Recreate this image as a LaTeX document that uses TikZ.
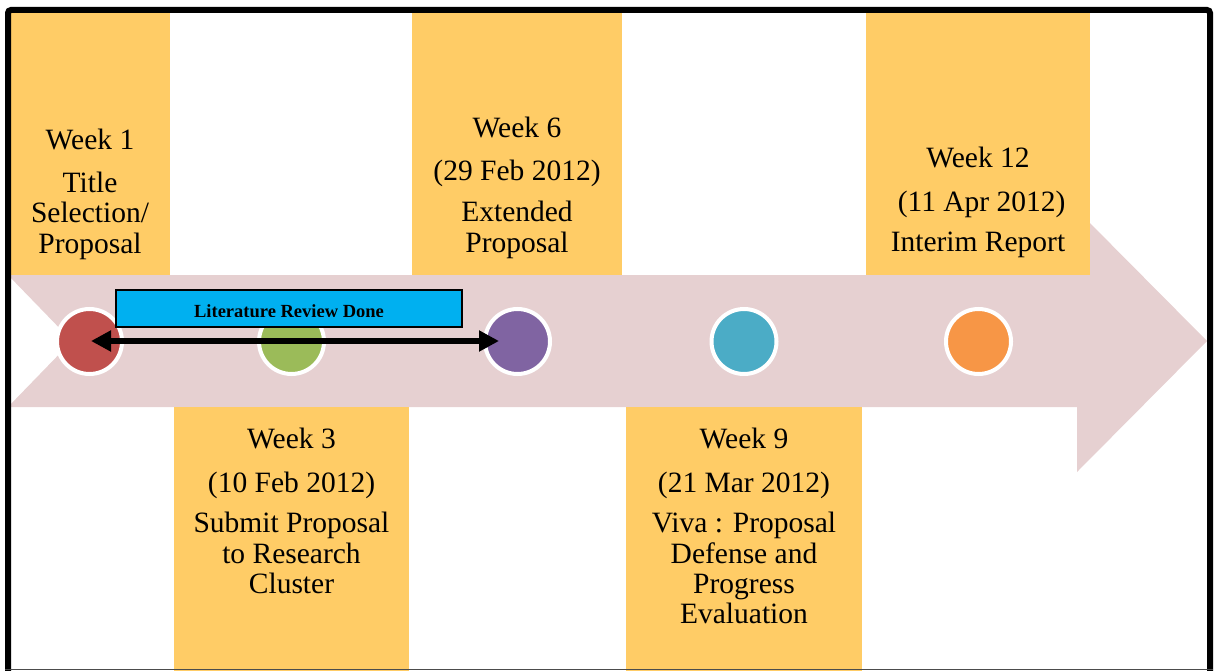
\documentclass[tikz,border=0pt]{standalone}
\usepackage{fontspec}
\setmainfont{Liberation Serif}
\usetikzlibrary{arrows.meta}

\definecolor{boxyellow}{HTML}{FFCC66}
\definecolor{arrowpink}{HTML}{E6D0D1}
\definecolor{lrblue}{HTML}{00B0F0}
\definecolor{dotred}{HTML}{C0504D}
\definecolor{dotgreen}{HTML}{9BBB59}
\definecolor{dotpurple}{HTML}{8064A2}
\definecolor{dotaqua}{HTML}{4BACC6}
\definecolor{dotorange}{HTML}{F79646}

\begin{document}
\begin{tikzpicture}[x=1pt,y=-1pt,
  band/.style={fill=boxyellow},
  milestone/.style={circle, minimum size=65pt, inner sep=0pt, draw=white, line width=4pt},
  wk/.style={font=\fontsize{29.5}{30.3}\selectfont, align=center, inner sep=0pt, anchor=north},
  tipend/.tip={Triangle[length=20pt,width=20pt]},
]
\useasboundingbox (0,0) rectangle (1218,671);

% timeline arrow with notched tail
\fill[arrowpink] (8,275) -- (1077,275) -- (1077,210) -- (1207,341)
  -- (1077,472) -- (1077,407) -- (8,407) -- (72,341) -- cycle;

% milestone bands above and below the arrow
\fill[band] (10,10) rectangle (170,275);
\fill[band] (412,10) rectangle (622,275);
\fill[band] (866,10) rectangle (1090,275);
\fill[band] (174,407) rectangle (409,671);
\fill[band] (626,407) rectangle (862,671);

% milestone texts
\node[wk] (w1) at (90,128)
  {\rule{0pt}{21pt}Week 1\\[13pt]Title\\Selection/\\Proposal};
\node[wk] (w6) at (517,116)
  {\rule{0pt}{21pt}Week 6\\[13pt](29 Feb 2012)\\[11pt]Extended\\Proposal};
\node[wk] (w12) at (978,146)
  {\rule{0pt}{21pt}Week 12\\[14pt]\ (11 Apr 2012)\\[10pt]Interim Report};
\node[wk] (w3) at (291.5,427)
  {\rule{0pt}{21pt}Week 3\\[14pt](10 Feb 2012)\\[10pt]Submit Proposal\\to Research\\Cluster};
\node[wk] (w9) at (744,427)
  {\rule{0pt}{21pt}Week 9\\[14pt](21 Mar 2012)\\[10pt]Viva : Proposal\\Defense and\\Progress\\Evaluation};

% milestone dots
\node[milestone, fill=dotred]    (d1) at (89.5,341.5) {};
\node[milestone, fill=dotgreen]  (d3) at (291.5,341.5) {};
\node[milestone, fill=dotpurple] (d6) at (517.5,341.5) {};
\node[milestone, fill=dotaqua]   (d9) at (744,341.5) {};
\node[milestone, fill=dotorange] (d12) at (978.5,341.5) {};

% literature review span
\coordinate (lrstart) at (91,341);
\coordinate (lrend) at (499,341);
\draw[line width=6pt, tipend-tipend] (lrstart) -- (lrend);

\node[draw=black, line width=2pt, fill=lrblue, minimum width=346pt,
      minimum height=37pt, inner sep=0pt] (lrbox) at (289,308.5) {};
\begin{scope}
  \clip (116,290) rectangle (462,316);
  \node[font=\fontsize{18.5}{20}\selectfont\bfseries, anchor=base, inner sep=0pt]
    (lrtext) at (289,317.5) {Literature Review Done};
\end{scope}

% frame
\draw[line width=6pt, rounded corners=3pt] (8,671) -- (8,10) -- (1210,10) -- (1210,671);
\draw[line width=1.5pt, black!70] (5,669.7) -- (1213,669.7);
\end{tikzpicture}
\end{document}
